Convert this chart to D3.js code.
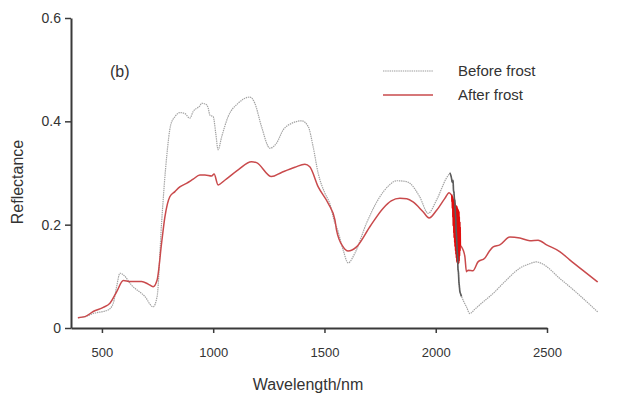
<!DOCTYPE html>
<html>
<head>
<meta charset="utf-8">
<script src="https://cdn.jsdelivr.net/npm/d3@7"></script>
<style>
  body { margin: 0; background: #fff; }
  text { font-family: "Liberation Sans", Arial, sans-serif; fill: #333; }
</style>
</head>
<body>
<div id="chart"></div>
<script>
// wavelength (axis units) / reflectance
const xTicks = [500, 1000, 1500, 2000, 2500];
const yTicks = [0, 0.2, 0.4, 0.6];
const seriesNames = ["Before frost", "After frost"];

const beforeA = [
  [392, 0.020], [425, 0.022], [461, 0.028], [528, 0.035], [551, 0.048], [566, 0.080],
  [581, 0.106], [596, 0.103], [633, 0.083], [693, 0.061], [730, 0.041], [748, 0.061],
  [768, 0.203], [791, 0.332], [809, 0.393], [828, 0.409], [850, 0.417], [873, 0.415],
  [895, 0.406], [910, 0.419], [940, 0.430], [948, 0.435], [970, 0.432], [978, 0.425],
  [985, 0.412], [1000, 0.409], [1012, 0.375], [1022, 0.345], [1038, 0.370], [1067, 0.409],
  [1112, 0.435], [1165, 0.447], [1187, 0.435], [1217, 0.390], [1255, 0.348], [1285, 0.358],
  [1314, 0.383], [1352, 0.396], [1397, 0.401], [1427, 0.390], [1449, 0.351], [1472, 0.299],
  [1502, 0.261], [1524, 0.241], [1547, 0.203], [1554, 0.196], [1584, 0.151], [1606, 0.126],
  [1637, 0.145], [1689, 0.203], [1749, 0.254], [1790, 0.276], [1824, 0.285], [1860, 0.284],
  [1884, 0.280], [1928, 0.254], [1966, 0.222], [2004, 0.248], [2048, 0.290], [2064, 0.300]
];
const beforeSpike = [
  [2070, 0.292], [2074, 0.282], [2078, 0.286], [2080, 0.266], [2082, 0.262], [2084, 0.250],
  [2086, 0.246], [2088, 0.224], [2090, 0.212], [2092, 0.188], [2094, 0.174], [2096, 0.152],
  [2098, 0.140], [2100, 0.114], [2102, 0.108], [2104, 0.090], [2106, 0.082], [2108, 0.072],
  [2112, 0.066]
];
const beforeB = [
  [2116, 0.061], [2127, 0.050], [2138, 0.041], [2153, 0.028], [2175, 0.036], [2198, 0.045],
  [2258, 0.067], [2318, 0.093], [2378, 0.116], [2420, 0.124], [2453, 0.128], [2475, 0.125],
  [2498, 0.119], [2557, 0.096], [2602, 0.080], [2660, 0.058], [2728, 0.031]
];

const afterA = [
  [392, 0.020], [424, 0.022], [461, 0.032], [506, 0.040], [536, 0.048], [566, 0.070],
  [596, 0.092], [626, 0.090], [678, 0.090], [708, 0.085], [730, 0.080], [748, 0.093],
  [768, 0.164], [783, 0.215], [805, 0.254], [828, 0.264], [850, 0.273], [880, 0.280],
  [910, 0.288], [940, 0.296], [963, 0.296], [993, 0.294], [1004, 0.298], [1022, 0.277],
  [1052, 0.286], [1112, 0.306], [1172, 0.322], [1195, 0.320], [1262, 0.293], [1307, 0.301],
  [1367, 0.311], [1412, 0.317], [1434, 0.312], [1472, 0.273], [1517, 0.241], [1547, 0.209],
  [1554, 0.190], [1584, 0.157], [1606, 0.149], [1644, 0.157], [1704, 0.196], [1764, 0.232],
  [1800, 0.246], [1839, 0.251], [1870, 0.250], [1898, 0.244], [1943, 0.225], [1970, 0.213],
  [2004, 0.228], [2041, 0.251], [2060, 0.262], [2071, 0.257]
];
const afterSpike = [
  [2072, 0.257], [2073, 0.245], [2074, 0.255], [2075, 0.232], [2076, 0.253], [2077, 0.215],
  [2078, 0.250], [2079, 0.198], [2080, 0.248], [2081, 0.185], [2082, 0.246], [2083, 0.175],
  [2084, 0.244], [2085, 0.166], [2086, 0.241], [2087, 0.158], [2088, 0.239], [2089, 0.150],
  [2090, 0.237], [2091, 0.143], [2092, 0.235], [2093, 0.136], [2094, 0.236], [2095, 0.129],
  [2096, 0.233], [2097, 0.127], [2098, 0.231], [2099, 0.126], [2100, 0.229], [2101, 0.125],
  [2102, 0.227], [2103, 0.126], [2104, 0.225], [2105, 0.130], [2106, 0.215], [2107, 0.140],
  [2108, 0.205], [2109, 0.150], [2110, 0.195], [2111, 0.160]
];
const afterB = [
  [2116, 0.157], [2124, 0.150], [2131, 0.138], [2138, 0.109], [2146, 0.112], [2168, 0.111],
  [2190, 0.128], [2220, 0.135], [2240, 0.148], [2258, 0.157], [2288, 0.161], [2333, 0.176],
  [2378, 0.174], [2423, 0.169], [2460, 0.170], [2498, 0.161], [2557, 0.148], [2602, 0.132],
  [2660, 0.112], [2728, 0.089]
];

const width = 624, height = 405;
const svg = d3.select("#chart").append("svg")
  .attr("width", width)
  .attr("height", height);

const x = d3.scaleLinear().domain([361, 2500]).range([71, 547]);
const y = d3.scaleLinear().domain([0, 0.6]).range([328, 18]);

const line = d3.line()
  .x((d) => x(d[0]))
  .y((d) => y(d[1]))
  .curve(d3.curveMonotoneX);
const rawLine = d3.line()
  .x((d) => x(d[0]))
  .y((d) => y(d[1]));

// before frost: light dotted grey
svg.append("path")
  .attr("d", line(beforeA) + rawLine([beforeA[beforeA.length - 1]].concat(beforeSpike, [beforeB[0]])).replace("M", "L") + line(beforeB).replace("M", "L"))
  .attr("fill", "none")
  .attr("stroke", "#a2a2a2")
  .attr("stroke-width", 1.2)
  .attr("stroke-dasharray", "1.4,0.8");

// after frost
svg.append("path")
  .attr("d", line(afterA) + rawLine([afterA[afterA.length - 1]].concat(afterSpike, [afterB[0]])).replace("M", "L") + line(afterB).replace("M", "L"))
  .attr("fill", "none")
  .attr("stroke", "#c94a4c")
  .attr("stroke-width", 1.5);

// noisy band around the water absorption: solid red
svg.append("path")
  .attr("d", rawLine(afterSpike) + "Z")
  .attr("fill", "#e30b0b")
  .attr("stroke", "#e30b0b")
  .attr("stroke-width", 1.2)
  .attr("stroke-linejoin", "round");

svg.append("path")
  .attr("d", line([beforeA[beforeA.length - 1]].concat(beforeSpike, [beforeB[0]])))
  .attr("fill", "none")
  .attr("stroke", "#5c5c5c")
  .attr("stroke-width", 1.6);

// axes
const xAxis = svg.append("g")
  .attr("transform", `translate(0,${y(0)})`)
  .call(d3.axisBottom(x).tickValues(xTicks).tickSize(5).tickSizeOuter(0).tickPadding(15).tickFormat(d3.format("d")));
xAxis.select(".domain").attr("stroke", "#3a3a3a").attr("stroke-width", 2);
xAxis.selectAll(".tick line").attr("stroke", "#3a3a3a").attr("stroke-width", 1.5);
xAxis.selectAll(".tick text").attr("font-size", 13).attr("fill", "#333")
  .style("font-family", "'Liberation Sans', Arial, sans-serif");

const yAxis = svg.append("g")
  .attr("transform", `translate(${x(361)},0)`)
  .call(d3.axisLeft(y).tickValues(yTicks).tickSize(6).tickSizeOuter(0).tickPadding(4)
    .tickFormat((d) => d === 0 ? "0" : d3.format(".1f")(d)));
yAxis.select(".domain").attr("stroke", "#3a3a3a").attr("stroke-width", 2);
yAxis.selectAll(".tick line").attr("stroke", "#3a3a3a").attr("stroke-width", 1.5);
yAxis.selectAll(".tick text").attr("font-size", 14).attr("fill", "#333")
  .style("font-family", "'Liberation Sans', Arial, sans-serif");

svg.append("text")
  .attr("transform", "translate(23,182) rotate(-90)")
  .attr("text-anchor", "middle")
  .attr("font-size", 16)
  .text("Reflectance");

svg.append("text")
  .attr("x", 308)
  .attr("y", 390)
  .attr("text-anchor", "middle")
  .attr("font-size", 16)
  .text("Wavelength/nm");

svg.append("text")
  .attr("x", 110)
  .attr("y", 77)
  .attr("font-size", 16)
  .text("(b)");

// legend
const legend = svg.append("g").attr("transform", "translate(383,71)");
const legendStyles = [
  { stroke: "#9c9c9c", width: 1.2, dash: "1.4,0.8" },
  { stroke: "#c94a4c", width: 1.6, dash: null }
];
seriesNames.forEach((name, i) => {
  const g = legend.append("g").attr("transform", `translate(0,${i * 24})`);
  g.append("line")
    .attr("x1", 0).attr("x2", 50)
    .attr("stroke", legendStyles[i].stroke)
    .attr("stroke-width", legendStyles[i].width)
    .attr("stroke-dasharray", legendStyles[i].dash);
  g.append("text")
    .attr("x", 75)
    .attr("y", 5)
    .attr("font-size", 15)
    .text(name);
});
</script>
</body>
</html>
